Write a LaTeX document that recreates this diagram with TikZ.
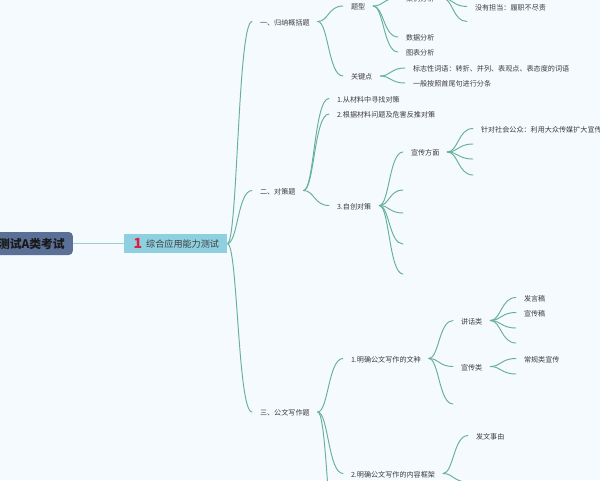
\documentclass[tikz,border=0pt]{standalone}
\usepackage{fontspec}
\setmainfont{Noto Sans CJK SC}
\usetikzlibrary{calc}
\definecolor{bgc}{HTML}{F5FAFF}
\definecolor{ln}{HTML}{66B09C}
\definecolor{lnroot}{HTML}{9CCFC6}
\definecolor{txt}{HTML}{3C3C3C}
\definecolor{rootc}{HTML}{5B7096}
\definecolor{mainc}{HTML}{8FD0E0}
\definecolor{numc}{HTML}{E11E3C}
\tikzset{
  lab/.style={inner sep=0pt,outer sep=8pt,anchor=west,text=txt,text height=8.4pt,text depth=1pt,font=\fontsize{7.1}{8}\selectfont},
  br/.style={draw=ln,line width=0.95pt,line cap=round},
  rootbox/.style={fill=rootc,rounded corners=4pt,minimum width=100pt,minimum height=23pt,inner sep=0pt,anchor=east},
  mainbox/.style={fill=mainc,minimum width=103pt,minimum height=19pt,inner sep=0pt,anchor=west}
}
\newcommand{\cv}[2]{\draw[br] (#1) .. controls ($(#1)!0.42!(#2|-#1)$) and ($(#2)!0.58!(#1|-#2)$) .. (#2);}
\begin{document}
\begin{tikzpicture}[x=1pt,y=-1pt]
\path[use as bounding box,fill=bgc] (0,0) rectangle (600,480);
\clip (0,0) rectangle (600,480);
\node[rootbox] (root) at (73,243.5) {};
\node[inner sep=0pt,anchor=east,text=black!90,font=\bfseries\fontsize{11.8}{12}\selectfont] (rootT) at (65,244) {测试A类考试};
\node[mainbox] (main) at (124,243.5) {};
\node[inner sep=0pt,text=numc,font=\bfseries\fontsize{14}{14}\selectfont] (one) at (138,243) {1};
\node[inner sep=0pt,anchor=west,text=txt,font=\fontsize{9.1}{10}\selectfont] (mainT) at (146,244) {综合应用能力测试};
\draw[lnroot,line width=1.2pt] (root.east) -- (main.west);
% level 1
\node[lab] (a1) at (252,21.5) {一、归纳概括题};
\node[lab] (a2) at (252,190.5) {二、对策题};
\node[lab] (a3) at (252,412) {三、公文写作题};
\cv{main.east}{a1.west}\cv{main.east}{a2.west}\cv{main.east}{a3.west}
% a1 branch
\node[lab] (b1) at (343,6) {题型};
\node[lab] (b2) at (343,76) {关键点};
\cv{a1.east}{b1.west}\cv{a1.east}{b2.west}
\node[lab] (c1) at (398,-2) {案例分析};
\node[lab] (c2) at (398,37) {数据分析};
\node[lab] (c3) at (398,52) {图表分析};
\cv{b1.east}{c1.west}\cv{b1.east}{c2.west}\cv{b1.east}{c3.west}
\coordinate (d0) at (467,-9);
\node[lab] (d1) at (467,6.5) {没有担当：履职不尽责};
\coordinate (d2) at (467,21.5);
\cv{c1.east}{d0}\cv{c1.east}{d1.west}\cv{c1.east}{d2}
\node[lab] (c4) at (405,68) {标志性词语：转折、并列、表观点、表态度的词语};
\node[lab] (c5) at (405,83) {一般按照首尾句进行分条};
\cv{b2.east}{c4.west}\cv{b2.east}{c5.west}
% a2 branch
\node[lab] (e1) at (329,98.5) {1.从材料中寻找对策};
\node[lab] (e2) at (329,114) {2.根据材料问题及危害反推对策};
\node[lab] (e3) at (329,205.5) {3.自创对策};
\cv{a2.east}{e1.west}\cv{a2.east}{e2.west}\cv{a2.east}{e3.west}
\node[lab] (f1) at (403,152) {宣传方面};
\coordinate (f2) at (403,190);
\coordinate (f3) at (403,213);
\coordinate (f4) at (403,244);
\coordinate (f5) at (403,274);
\cv{e3.east}{f1.west}\cv{e3.east}{f2}\cv{e3.east}{f3}\cv{e3.east}{f4}\cv{e3.east}{f5}
\node[lab] (g1) at (473,128.5) {针对社会公众：利用大众传媒扩大宣传};
\coordinate (g2) at (473,144);
\coordinate (g3) at (473,159);
\coordinate (g4) at (473,175);
\cv{f1.east}{g1.west}\cv{f1.east}{g2}\cv{f1.east}{g3}\cv{f1.east}{g4}
% a3 branch
\node[lab] (h1) at (343,358.5) {1.明确公文写作的文种};
\node[lab] (h2) at (343,473.5) {2.明确公文写作的内容框架};
\coordinate (h3) at (343,590);
\cv{a3.east}{h1.west}\cv{a3.east}{h2.west}\cv{a3.east}{h3}
\node[lab] (i1) at (453,320.5) {讲话类};
\node[lab] (i2) at (453,366.5) {宣传类};
\coordinate (i3) at (453,404);
\cv{h1.east}{i1.west}\cv{h1.east}{i2.west}\cv{h1.east}{i3}
\node[lab] (j1) at (516,297.5) {发言稿};
\node[lab] (j2) at (516,312.5) {宣传稿};
\coordinate (j3) at (516,328);
\coordinate (j4) at (516,343);
\cv{i1.east}{j1.west}\cv{i1.east}{j2.west}\cv{i1.east}{j3}\cv{i1.east}{j4}
\node[lab] (j5) at (516,358.5) {常规类宣传};
\coordinate (j6) at (516,374);
\cv{i2.east}{j5.west}\cv{i2.east}{j6}
\node[lab] (k1) at (468,435.5) {发文事由};
\coordinate (k2) at (468,482);
\cv{h2.east}{k1.west}\cv{h2.east}{k2}
\end{tikzpicture}
\end{document}
